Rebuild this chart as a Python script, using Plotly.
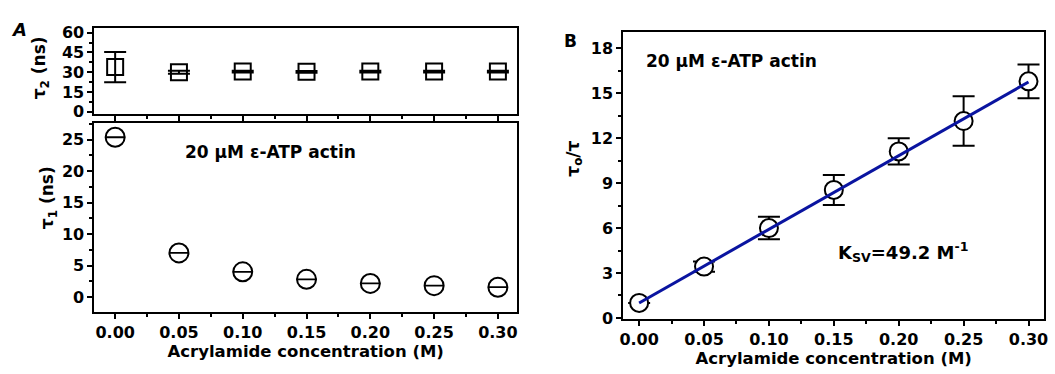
import plotly.graph_objects as go

# ---- data ----
conc = [0.00, 0.05, 0.10, 0.15, 0.20, 0.25, 0.30]
tau2 = [33.9, 30.0, 30.5, 30.3, 30.5, 30.5, 30.5]
tau2_err = [11.5, 1.2, 0.6, 0.6, 0.6, 0.6, 0.6]
tau1 = [25.4, 7.0, 4.0, 2.8, 2.15, 1.8, 1.55]
tau1_err = [0.05, 0.05, 0.05, 0.05, 0.05, 0.05, 0.05]
ratio = [1.0, 3.43, 6.0, 8.55, 11.12, 13.15, 15.8]
ratio_err = [0.0, 0.34, 0.75, 1.0, 0.88, 1.65, 1.12]
fit_x = [0.00, 0.30]
fit_y = [1.0, 15.76]

FONT = "DejaVu Sans"
fig = go.Figure()

fig.add_trace(go.Scatter(
    x=conc, y=tau2, mode="markers", xaxis="x", yaxis="y",
    marker=dict(symbol="square-open", size=16, color="black", line=dict(width=2)),
    error_y=dict(type="data", array=tau2_err, color="black", thickness=2, width=11),
    showlegend=False))

fig.add_trace(go.Scatter(
    x=conc, y=tau1, mode="markers", xaxis="x2", yaxis="y2",
    marker=dict(symbol="circle-open", size=19, color="black", line=dict(width=2)),
    error_y=dict(type="data", array=tau1_err, color="black", thickness=1.2, width=10),
    showlegend=False))

fig.add_trace(go.Scatter(
    x=conc, y=ratio, mode="markers", xaxis="x3", yaxis="y3",
    marker=dict(symbol="circle", size=18, color="white", line=dict(width=2, color="black")),
    error_y=dict(type="data", array=ratio_err, color="black", thickness=2, width=11),
    showlegend=False))

fig.add_trace(go.Scatter(
    x=fit_x, y=fit_y, mode="lines", xaxis="x3", yaxis="y3",
    line=dict(color="#0A14A0", width=3), showlegend=False))

tickfont = dict(family=FONT, size=16, color="black", weight="bold")
titlefont = dict(family=FONT, size=16.5, color="black", weight="bold")
ytitlefont = dict(family=FONT, size=17, color="black", weight="bold")
common = dict(showline=True, linewidth=2, linecolor="black", mirror=True,
              showgrid=False, zeroline=False, ticks="outside", ticklen=5,
              tickwidth=2, tickcolor="black", tickfont=tickfont,
              ticklabeloverflow="allow")

xA_range = [-0.0163, 0.315]
xB_range = [-0.0122, 0.312]
xminor = dict(ticks="outside", ticklen=3, tickwidth=2, tickcolor="black", dtick=0.025)

fig.update_layout(
    width=1055, height=374, margin=dict(l=0, r=0, t=0, b=0),
    paper_bgcolor="white", plot_bgcolor="white",
    font=dict(family=FONT, color="black"),
    xaxis=dict(domain=[0.0863, 0.4900], range=xA_range, anchor="y",
               showticklabels=False, dtick=0.05, minor=xminor, **common),
    yaxis=dict(domain=[0.6979, 0.9358], range=[-1.5, 63.5], anchor="x",
               tickvals=[0, 15, 30, 45, 60],
               minor=dict(ticks="outside", ticklen=3, tickwidth=2, tickcolor="black", dtick=7.5),
               **common),
    xaxis2=dict(domain=[0.0863, 0.4900], range=xA_range, anchor="y2",
                dtick=0.05, tickformat=".2f", minor=xminor,
                title=dict(text="Acrylamide concentration (M)", font=titlefont, standoff=3),
                **common),
    yaxis2=dict(domain=[0.1471, 0.6711], range=[-2.4, 27.6], anchor="x2",
                tickvals=[0, 5, 10, 15, 20, 25],
                minor=dict(ticks="outside", ticklen=3, tickwidth=2, tickcolor="black", dtick=2.5),
                **common),
    xaxis3=dict(domain=[0.5915, 0.9934], range=xB_range, anchor="y3",
                dtick=0.05, tickformat=".2f", minor=xminor,
                title=dict(text="Acrylamide concentration (M)", font=titlefont, standoff=3),
                **common),
    yaxis3=dict(domain=[0.1283, 0.9251], range=[-0.06, 19.1], anchor="x3",
                tickvals=[0, 3, 6, 9, 12, 15, 18],
                minor=dict(ticks="outside", ticklen=3, tickwidth=2, tickcolor="black", dtick=1.5),
                **common),
)

# y-axis titles placed where the reference shows them
fig.add_annotation(x=37 / 1055, y=1 - 65 / 374, xref="paper", yref="paper", xanchor="center", yanchor="middle",
                   text="τ<sub>2</sub> (ns)", textangle=-90, showarrow=False, font=ytitlefont)
fig.add_annotation(x=45 / 1055, y=1 - 200 / 374, xref="paper", yref="paper", xanchor="center", yanchor="middle",
                   text="τ<sub>1</sub> (ns)", textangle=-90, showarrow=False, font=ytitlefont)
fig.add_annotation(x=574 / 1055, y=1 - 160 / 374, xref="paper", yref="paper", xanchor="center", yanchor="middle",
                   text="τ<sub>o</sub>/τ", textangle=-90, showarrow=False, font=ytitlefont)

annfont = dict(family=FONT, size=17, color="black", weight="bold")
fig.add_annotation(x=0.053, y=23.0, xref="x2", yref="y2", xanchor="left", yanchor="middle",
                   text="20 μM ε-ATP actin", showarrow=False, font=annfont)
fig.add_annotation(x=0.0038, y=17.16, xref="x3", yref="y3", xanchor="left", yanchor="middle",
                   text="20 μM ε-ATP actin", showarrow=False, font=annfont)
fig.add_annotation(x=0.1515, y=4.4, xref="x3", yref="y3", xanchor="left", yanchor="middle",
                   text="K<sub>SV</sub>=49.2 M<sup>-1</sup>", showarrow=False,
                   font=dict(family=FONT, size=18, color="black", weight="bold"))
fig.add_annotation(x=15 / 1055, y=1 - 25 / 374, xref="paper", yref="paper", xanchor="center", yanchor="middle",
                   text="<i>A</i>", showarrow=False, font=dict(family=FONT, size=18, color="black", weight="bold"))
fig.add_annotation(x=571 / 1055, y=1 - 37 / 374, xref="paper", yref="paper", xanchor="center", yanchor="middle",
                   text="B", showarrow=False, font=dict(family=FONT, size=17, color="black", weight="bold"))

fig.write_html("out.html", config={"displayModeBar": False},
               post_script="document.body.style.margin='0';document.body.style.overflow='hidden';")
